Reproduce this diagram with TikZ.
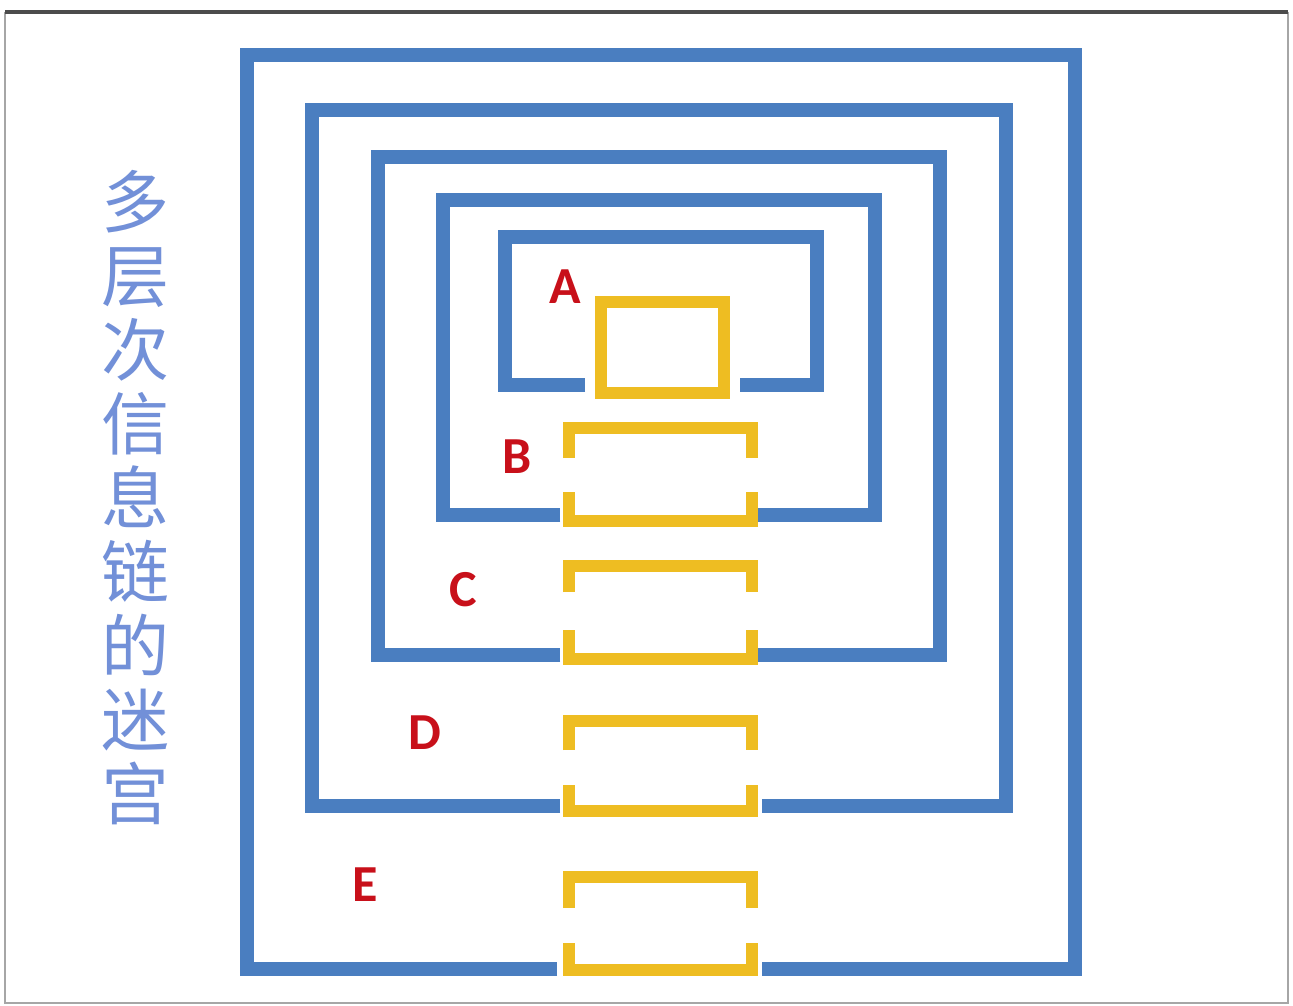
\documentclass[tikz,border=0pt]{standalone}
\usepackage{fontspec}
\setmainfont{Carlito}
\newfontfamily\cjk{Noto Sans CJK SC}
\definecolor{mazeblue}{HTML}{4A7EC0}
\definecolor{gold}{HTML}{EEBD22}
\definecolor{lblred}{HTML}{C8101A}
\definecolor{titleblue}{HTML}{7290D8}
\begin{document}
\begin{tikzpicture}[x=1pt,y=-1pt,
  wall/.style={draw=mazeblue,line width=14pt,line join=miter,line cap=butt},
  gate/.style={draw=gold,line width=12pt,line join=miter,line cap=butt},
  lbl/.style={text=lblred,font=\fontsize{52}{52}\selectfont\bfseries,inner sep=0pt}]
\useasboundingbox (0,0) rectangle (1293,1006);
\fill[white] (0,0) rectangle (1293,1006);
% frame
\draw[gray!70,line width=2pt] (5,13) rectangle (1288,1003);
\draw[black!70,line width=4pt] (5,12) -- (1288,12);
% blue walls (gap at the bottom of each)
\draw[wall] (585,385) -- (505,385) -- (505,237) -- (817,237) -- (817,385) -- (740,385);
\draw[wall] (560,515) -- (443,515) -- (443,200) -- (875,200) -- (875,515) -- (758,515);
\draw[wall] (560,655) -- (378,655) -- (378,157) -- (940,157) -- (940,655) -- (757,655);
\draw[wall] (560,806) -- (312,806) -- (312,110) -- (1006,110) -- (1006,806) -- (762,806);
\draw[wall] (557,969) -- (247,969) -- (247,55) -- (1075,55) -- (1075,969) -- (762,969);
% yellow gates
\draw[gate] (601,302) rectangle (724,393);
\foreach \t/\a/\b/\c in {428/458/492/521, 566/592/630/659, 721/750/785/811, 877/908/943/970}{
  \draw[gate] (569,\a) -- (569,\t) -- (752,\t) -- (752,\a);
  \draw[gate] (569,\b) -- (569,\c) -- (752,\c) -- (752,\b);
}
% labels
\node[lbl] (la) at (565,287) {A};
\node[lbl] (lb) at (517,457) {B};
\node[lbl] (lc) at (463,590) {C};
\node[lbl] (ld) at (425,733) {D};
\node[lbl] (le) at (365,885) {E};
% title
\node[text=titleblue,font=\cjk\fontsize{68}{74}\selectfont,align=center,inner sep=0pt] (title) at (135,498)
  {多\\层\\次\\信\\息\\链\\的\\迷\\宫};
\end{tikzpicture}
\end{document}
